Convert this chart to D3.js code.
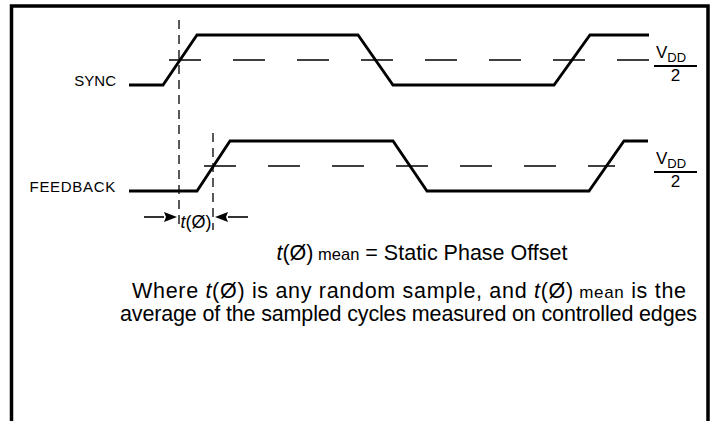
<!DOCTYPE html>
<html><head><meta charset="utf-8">
<script src="https://cdn.jsdelivr.net/npm/d3@7"></script>
<style>html,body{margin:0;padding:0;background:#fff}svg{display:block}</style>
</head><body>
<svg id="c" width="718" height="421"></svg>
<script>
// ---- data ----
const signalNames = ["SYNC", "FEEDBACK"];
// [time, level] pairs (time in arbitrary units, level 0 = low, 1 = high)
const syncWave = [[0,0],[34,0],[68,1],[229,1],[264,0],[425,0],[461,1],[520,1]];
const feedbackWave = [[0,0],[68,0],[101,1],[264,1],[298,0],[460,0],[495,1],[519,1]];
// threshold (VDD/2) dashed span in time units
const syncThreshold = [40, 520];
const feedbackThreshold = [75, 486];
// marker times (vertical dashed lines at the threshold crossings)
const markerTimes = [50, 84];
const thresholdLabel = ["V", "DD", "2"];
const notes = [
  "t(Ø) mean = Static Phase Offset",
  "Where t(Ø) is any random sample, and t(Ø) mean is the",
  "average of the sampled cycles measured on controlled edges"
];

// ---- drawing ----
const svg = d3.select("#c");
const font = "'Liberation Sans', Arial, Helvetica, sans-serif";
const x = d3.scaleLinear().domain([0, 520]).range([129, 649]);
const ySync = d3.scaleLinear().domain([0, 1]).range([85, 35]);
const yFb = d3.scaleLinear().domain([0, 1]).range([191, 141]);

// frame
svg.append("path")
  .attr("d", "M11.5,430 L11.5,6 L708,6 L708,430")
  .attr("fill", "none").attr("stroke", "#000").attr("stroke-width", 3.5);

function drawSignal(wave, y, thr, name) {
  const line = d3.line().x(d => x(d[0])).y(d => y(d[1]));
  svg.append("line")
    .attr("x1", x(thr[0])).attr("x2", x(thr[1]))
    .attr("y1", y(0.5)).attr("y2", y(0.5))
    .attr("stroke", "#000").attr("stroke-width", 1.3)
    .attr("stroke-dasharray", "32,32");
  svg.append("path").attr("d", line(wave))
    .attr("fill", "none").attr("stroke", "#000")
    .attr("stroke-width", 2.8).attr("stroke-linejoin", "miter");
  svg.append("text").text(name)
    .attr("x", 116).attr("y", y(0) + 1)
    .attr("text-anchor", "end")
    .attr("font-family", font).attr("font-size", 15)
    .attr("letter-spacing", name.length > 4 ? 0.7 : 0);
  const base = y(0.5);
  const t = svg.append("text").attr("font-family", font).attr("x", 656).attr("y", base - 2);
  t.append("tspan").text(thresholdLabel[0]).attr("font-size", 17);
  t.append("tspan").text(thresholdLabel[1]).attr("font-size", 13).attr("dy", 4);
  svg.append("line").attr("x1", 654).attr("x2", 697)
    .attr("y1", base + 6).attr("y2", base + 6)
    .attr("stroke", "#000").attr("stroke-width", 2.2);
  svg.append("text").text(thresholdLabel[2])
    .attr("x", 675.5).attr("y", base + 21).attr("text-anchor", "middle")
    .attr("font-family", font).attr("font-size", 17);
}
drawSignal(syncWave, ySync, syncThreshold, signalNames[0]);
drawSignal(feedbackWave, yFb, feedbackThreshold, signalNames[1]);

// vertical marker lines
const markerTop = [20, 133];
markerTimes.forEach((m, i) => {
  svg.append("line")
    .attr("x1", x(m)).attr("x2", x(m))
    .attr("y1", markerTop[i]).attr("y2", 230)
    .attr("stroke", "#000").attr("stroke-width", 1.3)
    .attr("stroke-dasharray", "9,6");
});

// arrows
const ay = 217;
function arrow(x0, tip) {
  const dir = Math.sign(tip - x0);
  const hb = tip - dir * 13;
  svg.append("line").attr("x1", x0).attr("x2", hb).attr("y1", ay).attr("y2", ay)
    .attr("stroke", "#000").attr("stroke-width", 1.6);
  svg.append("path")
    .attr("d", `M${tip},${ay} L${hb},${ay - 5} L${hb + dir * 2},${ay} L${hb},${ay + 5} Z`)
    .attr("fill", "#000");
}
arrow(144, x(markerTimes[0]) - 2);
arrow(248, x(markerTimes[1]) + 2);

function tphi(sel) {
  sel.append("tspan").text("t").attr("font-style", "italic");
  sel.append("tspan").text("(Ø)");
}
const lbl = svg.append("text").attr("x", (x(markerTimes[0]) + x(markerTimes[1])) / 2).attr("y", 228)
  .attr("text-anchor", "middle").attr("font-family", font).attr("font-size", 18);
tphi(lbl);

// notes
const n1 = svg.append("text").attr("x", 422).attr("y", 260).attr("text-anchor", "middle")
  .attr("font-family", font).attr("font-size", 21.5);
tphi(n1);
n1.append("tspan").text(" mean").attr("font-size", 16.5);
n1.append("tspan").text(" = Static Phase Offset");

const n2 = svg.append("text").attr("x", 409).attr("y", 298).attr("text-anchor", "middle")
  .attr("font-family", font).attr("font-size", 21.5)
  .attr("textLength", 554).attr("lengthAdjust", "spacing");
n2.append("tspan").text("Where ");
tphi(n2);
n2.append("tspan").text(" is any random sample, and ");
tphi(n2);
n2.append("tspan").text(" mean").attr("font-size", 17);
n2.append("tspan").text(" is the");

svg.append("text").attr("x", 408.5).attr("y", 321).attr("text-anchor", "middle")
  .attr("font-family", font).attr("font-size", 21.5)
  .attr("textLength", 577).attr("lengthAdjust", "spacing")
  .text(notes[2]);
</script>
</body></html>
